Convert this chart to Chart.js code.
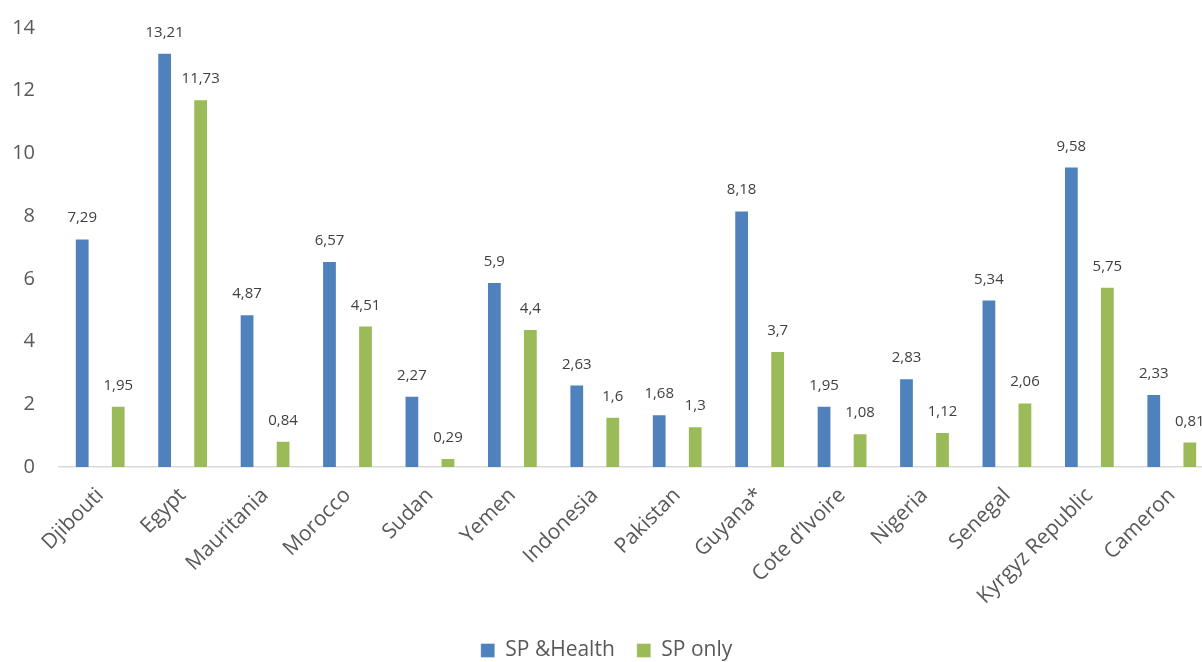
<!DOCTYPE html>
<html>
<head>
<meta charset="utf-8">
<script src="https://cdn.jsdelivr.net/npm/chart.js@4/dist/chart.umd.min.js"></script>
<style>
    html, body { margin: 0; padding: 0; background: #fff; overflow: hidden; }
    #wrap { width: 1213px; height: 662px; position: relative; }
</style>
</head>
<body>
<div id="wrap"><canvas id="spChart"></canvas></div>
<script>
// Chart data
const countries = ['Djibouti', 'Egypt', 'Mauritania', 'Morocco', 'Sudan', 'Yemen', 'Indonesia',
    'Pakistan', 'Guyana*', 'Cote d\u2019Ivoire', 'Nigeria', 'Senegal', 'Kyrgyz Republic', 'Cameron'];
const spHealth = [7.29, 13.21, 4.87, 6.57, 2.27, 5.9, 2.63, 1.68, 8.18, 1.95, 2.83, 5.34, 9.58, 2.33];
const spOnly = [1.95, 11.73, 0.84, 4.51, 0.29, 4.4, 1.6, 1.3, 3.7, 1.08, 1.12, 2.06, 5.75, 0.81];
const yTicks = [0, 2, 4, 6, 8, 10, 12, 14];

const FONT = '"Open Sans", sans-serif';
const textGrey = '#595959';

// Value labels above the bars, decimal comma like the original
const valueLabels = {
    id: 'valueLabels',
    afterDatasetsDraw(chart) {
        const ctx = chart.ctx;
        ctx.save();
        ctx.font = '15px ' + FONT;
        ctx.fillStyle = '#404040';
        ctx.textAlign = 'center';
        ctx.textBaseline = 'alphabetic';
        chart.data.datasets.forEach((ds, i) => {
            chart.getDatasetMeta(i).data.forEach((bar, j) => {
                const txt = String(ds.data[j]).replace('.', ',');
                ctx.fillText(txt, bar.x, bar.y - 16);
            });
        });
        ctx.restore();
    }
};

new Chart(document.getElementById('spChart'), {
    type: 'bar',
    data: {
        labels: countries,
        datasets: [
            {
                label: 'SP &Health',
                data: spHealth,
                backgroundColor: '#4f81bd',
                borderColor: 'rgba(255,255,255,0.35)',
                borderWidth: 1
            },
            {
                label: 'SP only',
                data: spOnly,
                backgroundColor: '#9bbb59',
                borderColor: 'rgba(255,255,255,0.35)',
                borderWidth: 1
            }
        ]
    },
    options: {
        responsive: true,
        maintainAspectRatio: false,
        animation: false,
        categoryPercentage: 0.874,
        barPercentage: 0.41,
        layout: {
            padding: { top: 28, left: 0, right: 0, bottom: -9 }
        },
        plugins: {
            tooltip: { enabled: false },
            legend: {
                position: 'bottom',
                labels: {
                    boxWidth: 14,
                    boxHeight: 14,
                    padding: 22,
                    color: textGrey,
                    font: { family: FONT, size: 21 }
                }
            }
        },
        scales: {
            y: {
                min: 0,
                max: 14,
                afterBuildTicks: (scale) => { scale.ticks = yTicks.map(v => ({ value: v })); },
                afterFit: (scale) => {
                    scale.width = 59;
                    scale.paddingTop = 12;
                    scale.paddingBottom = 12;
                },
                grid: { display: false, drawTicks: false },
                border: { display: false },
                ticks: {
                    padding: 24,
                    color: textGrey,
                    font: { family: FONT, size: 20 }
                }
            },
            x: {
                afterFit: (scale) => { scale.height = 151; },
                grid: { display: false, drawTicks: false },
                border: { display: true, color: '#d9d9d9', width: 1.5 },
                ticks: {
                    minRotation: 45,
                    maxRotation: 45,
                    autoSkip: false,
                    padding: 16,
                    color: textGrey,
                    font: { family: FONT, size: 21 }
                }
            }
        }
    },
    plugins: [valueLabels]
});
</script>
</body>
</html>
